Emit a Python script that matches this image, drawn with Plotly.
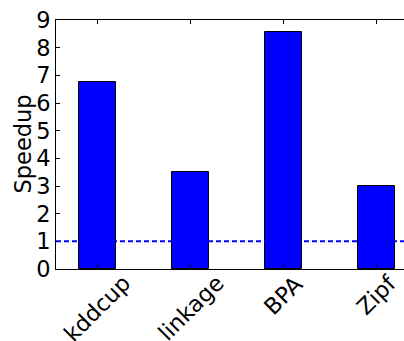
import plotly.graph_objects as go

categories = ["kddcup", "linkage", "BPA", "Zipf"]
speedup = [6.75, 3.49, 8.55, 3.0]
baseline = 1.0
y_ticks = [0, 1, 2, 3, 4, 5, 6, 7, 8, 9]

FONT = "DejaVu Sans"
FS = 22.5
xs = list(range(len(categories)))

fig = go.Figure()
fig.add_trace(go.Bar(
    x=xs, y=speedup, width=0.4,
    marker=dict(color="#0000ff", line=dict(color="black", width=1)),
    showlegend=False, hoverinfo="skip",
))
fig.add_shape(type="line", xref="paper", yref="y", x0=0, x1=1, y0=baseline, y1=baseline,
              line=dict(color="#0000ff", width=2, dash="5px,3px"), layer="above")

for i, c in enumerate(categories):
    fig.add_annotation(x=i, xref="x", y=0, yref="paper", text=c, textangle=-45,
                       showarrow=False, xanchor="center", yanchor="top", yshift=2,
                       font=dict(family=FONT, size=FS, color="black"))

fig.add_annotation(x=0, xref="paper", y=0.5, yref="paper", text="Speedup", textangle=-90,
                   showarrow=False, xanchor="center", yanchor="middle", xshift=-34,
                   font=dict(family=FONT, size=FS, color="black"))

fig.update_layout(
    width=404, height=341,
    margin=dict(l=56, r=0, t=20, b=72),
    paper_bgcolor="white", plot_bgcolor="white",
    font=dict(family=FONT, size=FS, color="black"),
    bargap=0,
)
fig.update_xaxes(range=[-0.447, 3.30], tickvals=xs, ticktext=[""] * len(xs),
                 ticks="inside", ticklen=4, tickwidth=1, tickcolor="black",
                 showline=True, linecolor="black", linewidth=1, mirror="ticks",
                 showgrid=False, zeroline=False)
fig.update_yaxes(range=[0, 9], tickvals=y_ticks, ticks="inside", ticklen=4, tickwidth=1,
                 tickcolor="black", showline=True, linecolor="black", linewidth=1,
                 mirror=False, showgrid=False, zeroline=False,
                 tickfont=dict(family=FONT, size=FS))

fig.write_html("out.html", config={"displayModeBar": False},
               post_script="document.body.style.margin='0';document.body.style.overflow='hidden';")
